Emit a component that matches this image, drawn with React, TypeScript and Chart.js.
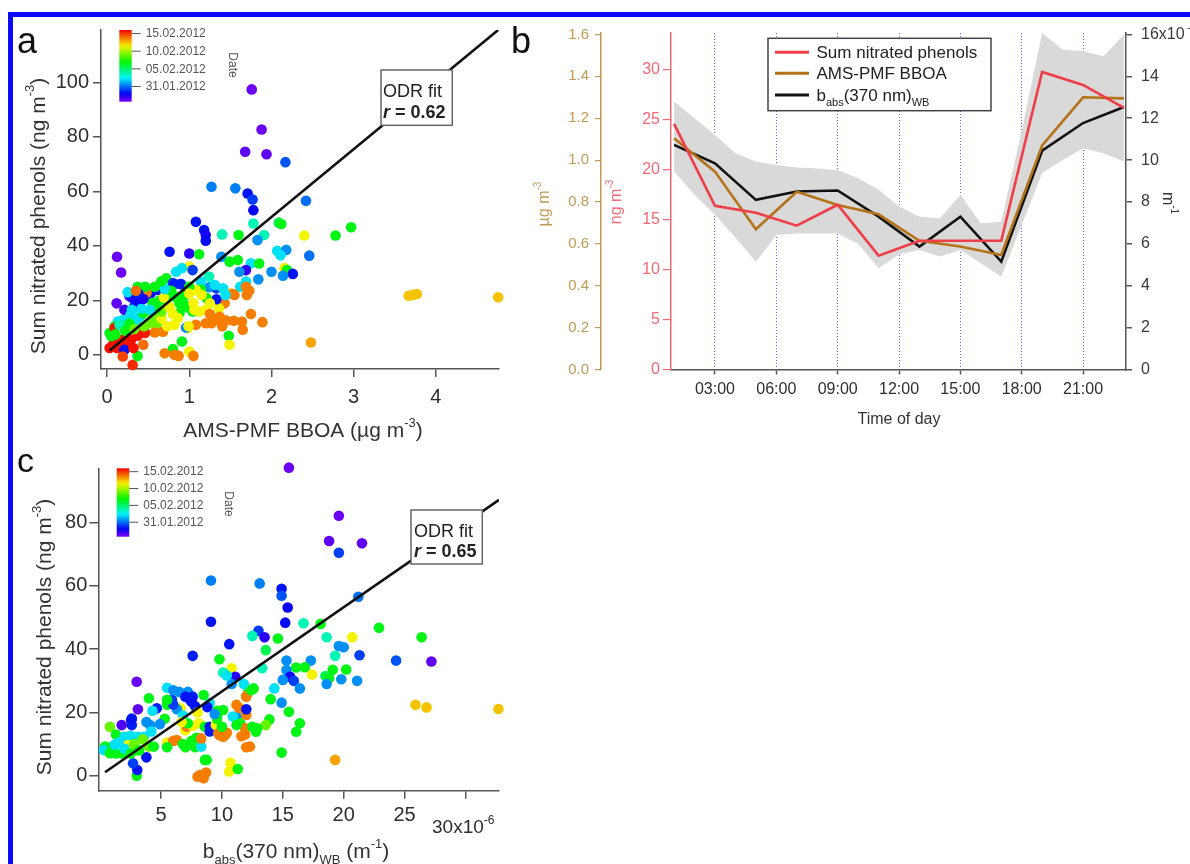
import React, { useEffect, useRef } from "react";
import { Chart, registerables } from "chart.js";

Chart.register(...registerables);

const FAMILY = '"Liberation Sans", Arial, Helvetica, sans-serif';
Chart.defaults.font.family = FAMILY;

// ---------------- Panel b : diurnal cycles ----------------
const hours = [1, 3, 5, 7, 9, 11, 13, 15, 17, 19, 21, 23];
const nitratedPhenolsDiurnal = [24.6, 16.4, 15.7, 14.4, 16.5, 11.4, 12.9, 12.9, 12.9, 29.8, 28.5, 26.2]; // ng m-3
const bboaDiurnal = [1.104, 0.945, 0.67, 0.849, 0.786, 0.741, 0.615, 0.587, 0.547, 1.07, 1.3, 1.295]; // ug m-3
const babsDiurnal = [10.73, 9.85, 8.1, 8.5, 8.55, 7.3, 5.87, 7.3, 5.15, 10.45, 11.77, 12.54]; // x1e-6 m-1
const bandHours = [1, 2, 3, 4, 5, 6, 7, 8, 9, 10, 11, 12, 13, 14, 15, 16, 17, 18, 19, 20, 21, 22, 23];
const babsUpper = [12.8, 12.0, 11.2, 10.33, 9.93, 9.77, 9.65, 9.6, 9.53, 9.13, 8.58, 7.78, 7.3, 7.22, 8.34, 6.98, 7.06, 11.4, 16.07, 15.28, 15.2, 14.96, 16.0];
const babsLower = [9.45, 8.34, 7.38, 6.3, 5.15, 6.42, 6.5, 6.5, 6.5, 6.0, 4.83, 5.5, 5.71, 5.4, 5.71, 5.07, 4.43, 6.9, 9.38, 10.0, 10.57, 10.33, 9.93];

// ---------------- Colour bar (date, days relative to 31.01.2012) ----------------
const DAY_MIN = -4.3;
const DAY_MAX = 16;
const colorbarDays = [0, 5, 10, 15];
const colorbarLabels = ["31.01.2012", "05.02.2012", "10.02.2012", "15.02.2012"];

// ---------------- Panel a : [BBOA ug m-3, nitrated phenols ng m-3, day] ----------------
const scatterBBOA: number[][] = [
  [1.76, 97.4, -4], [1.88, 82.7, -4], [1.68, 74.5, -3.8], [1.94, 73.6, -3.8], [2.17, 70.7, -0.5],
  [1.27, 61.7, 0.3], [1.56, 61.1, 0.3], [1.71, 59.2, -1.7], [1.77, 57.0, -0.9], [1.78, 53.1, -2.2],
  [2.42, 56.5, 0], [1.08, 48.8, -1.7], [1.18, 45.8, -1.7], [1.2, 44.0, -2.5], [1.2, 41.9, -1.9],
  [1.78, 48.2, 3.6], [2.09, 48.5, 5.5], [2.12, 48.0, 6.6], [2.97, 46.8, 6.6], [2.78, 43.8, 6.6],
  [2.4, 43.8, 11.5], [1.6, 44.0, 6.6], [1.4, 44.2, 3.6], [1.91, 44.0, 3.6], [0.76, 37.8, -1.7],
  [1.0, 37.2, -2.8], [1.12, 36.9, 6.6], [1.39, 36.0, 0.6], [1.49, 34.2, 6.6], [1.59, 34.8, 6.6],
  [1.75, 33.6, 2.1], [1.85, 33.5, 6.6], [1.83, 42.1, 0.6], [2.07, 38.2, 2.1], [2.18, 38.5, 0.6],
  [2.11, 36.5, 2.1], [2.46, 36.4, 0], [2.16, 31.8, 11.5], [2.19, 31.1, 6.6], [2.26, 29.7, -1.7],
  [2.14, 29.0, 0.6], [2.0, 30.5, 0.6], [1.69, 31.1, -3], [1.61, 30.5, 0.6], [1.69, 26.9, 2.1],
  [1.84, 27.7, 0.6], [1.62, 25.0, 2.1], [1.7, 22.0, 13.7], [1.73, 23.5, 13.7], [1.55, 22.0, 13.7],
  [1.5, 22.5, 12.4], [1.43, 18.9, 13.7], [1.36, 17.1, 11.5], [1.24, 24.8, 0.6], [1.33, 24.4, -0.9],
  [1.33, 20.4, -1.7], [1.24, 28.7, 3.6], [1.14, 26.9, 2.1], [1.14, 24.0, 6.6], [1.21, 20.8, 6.6],
  [1.08, 23.8, 11.5], [1.0, 32.4, 11.5], [1.04, 31.1, -0.9], [0.91, 31.8, 2.1], [0.84, 30.5, 2.1],
  [0.72, 28.1, 6.6], [0.8, 26.3, -0.9], [0.89, 26.0, -2.5], [0.96, 24.4, -1.7], [0.91, 21.0, 6.6],
  [0.88, 18.9, 6.6], [0.96, 17.5, 6.6], [1.04, 15.9, 6.6], [1.12, 15.9, 11.5], [1.2, 11.6, 13.7],
  [1.29, 13.4, 13.7], [1.37, 14.0, 13.7], [1.45, 12.6, 13.7], [1.54, 12.5, 13.7], [1.64, 12.2, 13.7],
  [1.65, 9.2, 13.7], [1.75, 15.0, 13.7], [1.89, 12.0, 13.7], [1.4, 10.5, 13.7], [1.48, 7.0, 6.6],
  [1.49, 3.7, 11.5], [2.48, 4.5, 13], [0.91, 4.9, 6.6], [1.0, 1.2, 11.5], [1.05, -0.4, 13.7],
  [0.87, -0.4, 13.7], [0.8, 2.1, 6.6], [0.7, 0.6, 13.7], [3.72, 22.0, 12.4], [3.77, 22.3, 12.4],
  [3.67, 21.7, 12.4], [4.76, 21.1, 12.4], [0.98, 9.8, 11.5], [1.08, 11.0, 13.7],
  [0.12, 36.0, -4], [0.17, 30.2, -4], [0.115, 18.9, -3.8], [0.27, 21.6, -3.5], [0.21, 16.5, -3.2],
  [0.33, 17.7, -1.7], [0.37, 19.2, -2], [0.46, 21.4, -1.5], [0.53, 22.6, -1.7], [0.62, 23.8, -1.5],
  [0.48, 22.8, 13.7], [0.37, 25.0, 6.6], [0.46, 25.0, 6.6], [0.3, 16.5, 2.1], [0.19, 12.8, 2.1],
  [0.13, 12.2, 2.1], [0.09, 10.4, 6.6], [0.03, 8.0, 6.6], [0.06, 7.4, 6.6], [0.23, 10.4, 2.1],
  [0.35, 12.2, 2.1], [0.4, 14.1, 2.1], [0.44, 15.3, 6.6], [0.54, 12.2, 8.9], [0.6, 11.0, 8.9],
  [0.66, 13.4, 11.5], [0.66, 15.9, 8.9], [0.72, 20.1, 6.6], [0.82, 21.4, 6.6], [0.82, 26.0, -1.5],
  [0.9, 26.0, -1.5], [0.93, 21.4, 6.6], [1.0, 25.0, 6.6], [1.0, 22.5, 11.5], [0.97, 18.0, 6.6],
  [1.06, 16.5, 11.5], [0.88, 15.3, 6.6], [0.82, 11.0, 11.5], [0.68, 8.5, 13.7], [0.58, 8.2, 13.7],
  [0.46, 8.0, 15.5], [0.4, 8.5, 15.5], [0.37, 7.0, 15.7], [0.29, 5.5, 15.7], [0.25, 4.3, 15.7],
  [0.17, 5.5, 15.7], [0.11, 4.9, 15.7], [0.07, 3.7, 15.7], [0.03, 2.5, 15.7], [0.12, 2.5, 15.7],
  [0.19, 3.1, 15.7], [0.09, 9.8, 15.5], [0.21, 1.8, -1.7], [0.19, -0.6, 14.8], [0.31, -3.7, 15.2],
  [0.37, -0.4, 6.6], [0.44, 3.7, 14], [0.32, 2.5, 15.7], [0.82, 0.0, 13.7], [1.27, 11.6, 13.7],
  [1.35, 12.8, 13.7], [1.69, 25.0, 13.7], [1.72, 23.5, 13.7], [1.53, 22.3, 13.7], [1.15, 22.0, 11.5],
  [1.41, 24.4, 2.1], [1.31, 25.6, 2.1], [1.44, 22.0, 2.1], [1.25, 18.9, 11.5], [1.2, 16.5, 11.5],
  [1.25, 15.0, 13.7], [1.05, 18.9, 11.5], [0.96, 10.0, 0.6], [0.99, 10.5, 11.5], [0.73, 10.5, 11.5],
  [0.28, 14.5, 2.1], [0.15, 11.0, 3.6], [0.1, 7.5, 6.6], [0.05, 6.8, 6.6], [0.22, 8.9, 6.6],
  [0.27, 11.5, 6.6], [0.33, 9.5, 8.9], [0.5, 11.5, 8.9], [0.45, 10.5, 8.9], [0.55, 14.6, 8.9],
  [0.6, 17.0, 6.6], [0.63, 19.8, 6.6], [0.55, 19.0, 6.6], [0.42, 17.0, 2.1], [0.52, 16.5, 2.1],
  [0.69, 21.0, 11.5], [0.76, 17.5, 11.5], [0.8, 15.0, 11.5], [0.86, 13.5, 11.5], [0.78, 23.5, 6.6],
  [0.7, 24.2, 2.1], [0.58, 25.0, 6.6], [0.66, 27.0, 6.6], [0.44, 20.5, -2.5], [0.3, 21.0, -2.5],
  [0.38, 22.5, -1.5], [0.25, 23.0, 2.1], [0.35, 23.5, 14],
];
const odrFitA = [{ x: 0.03, y: 1.6 }, { x: 4.76, y: 119.2 }];

// ---------------- Panel c : [babs x1e-6 m-1, nitrated phenols ng m-3, day] ----------------
const scatterBabs: number[][] = [
  [15.5, 97.4, -4], [19.6, 82.2, -4], [18.8, 74.2, -3.8], [21.5, 73.5, -3.8], [19.6, 70.5, -0.9],
  [9.1, 61.7, 0.3], [13.1, 60.8, 0.3], [14.9, 59.1, -1.7], [14.9, 56.9, -0.5], [15.4, 53.2, -2.2],
  [21.2, 56.6, 0], [9.1, 48.7, -1.7], [15.2, 48.4, -1.9], [13.0, 45.8, -1.0], [13.5, 43.8, -2.8],
  [12.5, 44.2, 3.6], [14.6, 43.4, 6.6], [10.6, 41.6, -1.7], [7.6, 37.9, -1.5], [13.6, 39.7, 5.5],
  [16.7, 48.2, 3.6], [18.1, 48.0, 6.6], [22.9, 46.8, 6.6], [26.4, 43.8, 6.6], [20.7, 43.8, 11.5],
  [18.6, 43.8, 3.6], [19.6, 41.0, 0.6], [20.0, 40.6, 0.6], [21.3, 38.1, -0.9], [24.3, 36.4, -0.5],
  [27.2, 36.1, -3.8], [19.3, 37.9, 3.6], [17.3, 36.4, 0.6], [19.1, 33.5, 6.6], [20.2, 33.6, 6.6],
  [18.5, 31.5, 5.5], [18.8, 30.8, 6.6], [21.1, 30.0, 0.6], [19.8, 30.5, 0.6], [18.6, 29.0, 0.6],
  [17.4, 32.0, 11.5], [16.8, 34.3, 6.6], [16.1, 34.2, 6.6], [15.3, 33.4, 0.6], [15.3, 36.4, 0.6],
  [15.6, 31.3, -2.2], [15.9, 30.0, -0.9], [16.4, 27.6, 0.6], [15.0, 30.3, 0.6], [14.9, 23.1, 0.6],
  [14.3, 27.6, 2.1], [14.0, 24.2, 6.6], [13.3, 34.0, 3.6], [12.6, 27.6, 6.6], [12.2, 27.0, 6.6],
  [15.5, 20.2, 6.6], [16.4, 16.6, 6.6], [16.1, 13.9, 6.6], [14.9, 7.3, 6.6], [13.9, 17.8, 6.6],
  [13.6, 16.0, 8.9], [12.8, 13.9, 6.6], [19.3, 5.0, 13], [25.9, 22.4, 12.4], [26.8, 21.6, 12.4],
  [32.7, 21.1, 12.4], [10.8, 34.0, 11.5], [11.1, 31.3, -2.8], [10.8, 29.0, 0.6], [9.8, 36.8, 6.6],
  [10.1, 32.6, 3.6], [10.4, 31.7, 2.1], [11.8, 29.0, 2.1], [11.2, 18.7, 0.6], [11.5, 16.6, 6.6],
  [12.0, 25.2, 13.7], [11.2, 22.4, 13.7], [11.5, 21.5, 11.5], [12.0, 19.2, 13.7], [11.9, 15.0, 13.7],
  [11.9, 13.0, 13.7], [12.3, 9.2, 13.7], [10.4, 13.6, 13.7], [9.8, 12.8, 13.7], [10.1, 12.3, 13.7],
  [10.7, 4.1, 11.5], [10.6, 1.3, 11.5], [11.3, 2.1, 6.6], [8.2, 0.2, 13.7], [8.5, -0.8, 13.7],
  [8.0, -0.3, 13.7], [8.7, 1.0, 13.7], [8.75, 5.0, 6.6], [3.0, 0.0, 6.6], [3.05, 1.8, -1.7],
  [2.7, 3.9, -0.9], [3.0, 29.7, -4], [3.1, 21.0, -3.8], [1.77, 16.0, -3.5], [2.55, 17.5, -1.7],
  [2.6, 16.0, -1.5], [3.8, 5.8, -1.7], [5.9, 24.0, -0.9], [4.0, 24.5, 6.6], [5.5, 27.8, 2.1],
  [6.0, 27.0, 0.6], [6.5, 26.5, 0.6], [7.2, 26.5, 0.6], [7.0, 25.0, -1.7], [7.6, 25.0, -1.5],
  [7.5, 23.4, -1.7], [7.8, 22.0, -1.7], [2.6, 18.1, -1.7], [4.65, 21.3, -1.5], [4.3, 20.5, 2.1],
  [3.8, 17.0, 0.6], [4.1, 16.0, 0.6], [5.5, 22.4, 6.6], [6.6, 21.3, 11.5], [5.3, 18.0, 6.6],
  [4.9, 16.3, 0.6], [0.8, 15.5, 8.9], [1.3, 13.0, 6.6], [2.0, 12.3, 2.1], [2.5, 12.6, 2.1],
  [3.1, 12.3, 2.1], [3.6, 12.3, 2.1], [3.5, 11.5, 8.9], [0.4, 9.2, 6.6], [0.3, 8.1, 2.1],
  [1.0, 9.2, 6.6], [0.8, 7.1, 6.6], [1.3, 7.0, 6.6], [1.8, 7.0, 6.6], [2.3, 9.7, 11.5],
  [2.8, 10.0, 8.9], [3.2, 8.0, 6.6], [4.0, 9.2, 8.9], [4.4, 9.2, 6.6], [1.5, 10.5, 2.1],
  [2.0, 8.5, 2.1], [2.5, 7.0, 6.6], [1.2, 9.8, 2.1], [5.5, 10.5, 11.5], [6.0, 11.0, 13.7],
  [6.3, 11.3, 13.7], [5.5, 9.0, 6.6], [6.8, 10.0, 6.6], [7.0, 9.0, 6.6], [7.5, 11.0, 6.6],
  [7.8, 9.0, 6.6], [8.3, 9.2, 2.1], [8.6, 5.0, 6.6], [7.0, 14.4, 11.5], [7.1, 15.5, 13.7],
  [7.6, 15.8, 11.5], [7.9, 12.0, 6.6], [8.3, 11.8, 13.7], [7.2, 16.6, 6.6], [8.1, 16.6, 11.5],
  [8.6, 15.5, 6.6], [9.0, 15.5, -1.7], [9.0, 14.0, -1.5], [9.5, 16.0, 11.5], [9.6, 18.0, 6.6],
  [9.7, 20.0, 6.6], [9.7, 13.4, 13.7], [10.3, 13.0, 13.7], [10.0, 15.5, 6.6], [10.9, 18.7, 2.1],
  [11.4, 21.5, 13.7], [11.2, 16.0, 6.6], [11.6, 12.5, 13.7], [12.0, 9.0, 13.7], [12.0, 25.0, 13.7],
  [12.4, 27.0, 6.6], [12.0, 21.0, -1.7], [12.5, 15.5, 6.6], [12.9, 15.0, 6.6], [10.1, 20.8, 6.6],
  [9.6, 20.5, 6.6], [9.0, 23.0, 2.1], [8.5, 25.5, 6.6], [7.4, 24.0, -1.7], [6.3, 21.0, 0.6],
  [6.0, 22.5, -0.9], [5.5, 24.0, 6.6], [8.0, 20.0, 11.5], [8.8, 21.7, -1.7], [9.4, 19.5, 0.6],
  [6.8, 19.0, 2.1], [4.2, 14.0, 2.1], [6.7, 17.0, 11.5],
];
const odrFitC = [{ x: 0.4, y: 1.1 }, { x: 32.75, y: 87.2 }];

// ---------------- styling ----------------
const AXIS = "#555";
const TICKTXT = "#2e2e2e";
const RED = "#ef3e48";
const RED_AXIS = "#f06a76";
const BROWN = "#b47319";
const BROWN_AXIS = "#c39a55";
const BLACK = "#111";
const TICK_SIZE = 20;
const TITLE_SIZE = 21;

function dayColor(d: number) {
  const t = Math.min(1, Math.max(0, (d - DAY_MIN) / (DAY_MAX - DAY_MIN)));
  return `hsl(${(270 * (1 - t)).toFixed(1)}, 100%, 48%)`;
}

type Part = { t: string; m?: "sup" | "sub"; b?: boolean; i?: boolean };

function drawRich(ctx: any, x: number, y: number, rot: number, parts: Part[], size: number, color: string, align = "center") {
  ctx.save();
  ctx.translate(x, y);
  ctx.rotate(rot);
  ctx.fillStyle = color;
  ctx.textBaseline = "alphabetic";
  ctx.textAlign = "left";
  const fontFor = (p: Part) => `${p.i ? "italic " : ""}${p.b ? "bold " : ""}${p.m ? Math.round(size * 0.62) : size}px ${FAMILY}`;
  let total = 0;
  for (const p of parts) {
    ctx.font = fontFor(p);
    total += ctx.measureText(p.t).width;
  }
  let cx = align === "center" ? -total / 2 : 0;
  for (const p of parts) {
    ctx.font = fontFor(p);
    const dy = p.m === "sup" ? -size * 0.5 : p.m === "sub" ? size * 0.28 : 0;
    ctx.fillText(p.t, cx, dy);
    cx += ctx.measureText(p.t).width;
  }
  ctx.restore();
}

function drawColorbar(ctx: any, x0: number, yTop: number, x1: number, yBottom: number) {
  const g = ctx.createLinearGradient(0, yBottom, 0, yTop);
  for (let i = 0; i <= 24; i++) {
    g.addColorStop(i / 24, dayColor(DAY_MIN + ((DAY_MAX - DAY_MIN) * i) / 24));
  }
  ctx.fillStyle = g;
  ctx.fillRect(x0, yTop, x1 - x0, yBottom - yTop);
  colorbarDays.forEach((d, k) => {
    const y = yBottom - ((d - DAY_MIN) / (DAY_MAX - DAY_MIN)) * (yBottom - yTop);
    ctx.strokeStyle = "#555";
    ctx.lineWidth = 1;
    ctx.beginPath();
    ctx.moveTo(x1, y);
    ctx.lineTo(x1 + 9, y);
    ctx.stroke();
    ctx.fillStyle = "#555";
    ctx.font = `12px ${FAMILY}`;
    ctx.textAlign = "left";
    ctx.textBaseline = "middle";
    ctx.fillText(colorbarLabels[k], x1 + 14, y + 0.5);
  });
}

function drawOdrBox(ctx: any, x0: number, y0: number, x1: number, y1: number, r: string, tx: number, b1: number, b2: number) {
  ctx.fillStyle = "#fff";
  ctx.fillRect(x0, y0, x1 - x0, y1 - y0);
  ctx.strokeStyle = "#666";
  ctx.lineWidth = 1.5;
  ctx.strokeRect(x0, y0, x1 - x0, y1 - y0);
  drawRich(ctx, tx, b1, 0, [{ t: "ODR fit" }], 18, "#222", "left");
  drawRich(ctx, tx, b2, 0, [{ t: "r", b: true, i: true }, { t: " = " + r, b: true }], 18, "#222", "left");
}

function letter(ctx: any, s: string, x: number, y: number, size: number) {
  ctx.fillStyle = "#111";
  ctx.font = `${size}px ${FAMILY}`;
  ctx.textAlign = "left";
  ctx.textBaseline = "alphabetic";
  ctx.fillText(s, x, y);
}

const panelAPlugin = {
  id: "panelA",
  afterDraw(chart: any) {
    const ctx = chart.ctx;
    ctx.save();
    drawColorbar(ctx, 119.3, 30, 131.7, 101.7);
    drawRich(ctx, 228.5, 65, Math.PI / 2, [{ t: "Date" }], 12, "#555");
    drawOdrBox(ctx, 381, 70, 452.3, 125.3, "0.62", 383, 96.5, 118.3);
    drawRich(ctx, 44.5, 216, -Math.PI / 2, [{ t: "Sum nitrated phenols (ng m" }, { t: "-3", m: "sup" }, { t: ")" }], TITLE_SIZE, "#333");
    drawRich(ctx, 303, 437, 0, [{ t: "AMS-PMF BBOA (µg m" }, { t: "-3", m: "sup" }, { t: ")" }], TITLE_SIZE, "#333");
    letter(ctx, "a", 17, 53, 36);
    ctx.restore();
  },
};

const panelCPlugin = {
  id: "panelC",
  afterDraw(chart: any) {
    const ctx = chart.ctx;
    ctx.save();
    ctx.translate(0, -440);
    drawColorbar(ctx, 116.7, 468.3, 129.3, 536.7);
    drawRich(ctx, 225, 504, Math.PI / 2, [{ t: "Date" }], 12, "#555");
    drawOdrBox(ctx, 411, 510, 482.3, 564, "0.65", 414, 536.7, 556.7);
    drawRich(ctx, 51, 637, -Math.PI / 2, [{ t: "Sum nitrated phenols (ng m" }, { t: "-3", m: "sup" }, { t: ")" }], TITLE_SIZE, "#333");
    drawRich(ctx, 296, 858.3, 0, [{ t: "b" }, { t: "abs", m: "sub" }, { t: "(370 nm)" }, { t: "WB", m: "sub" }, { t: " (m" }, { t: "-1", m: "sup" }, { t: ")" }], TITLE_SIZE, "#333");
    drawRich(ctx, 432, 833.3, 0, [{ t: "30x10" }, { t: "-6", m: "sup" }], 19, TICKTXT, "left");
    letter(ctx, "c", 17, 472, 34);
    ctx.restore();
  },
};

const panelBPlugin = {
  id: "panelB",
  afterDraw(chart: any) {
    const ctx = chart.ctx;
    ctx.save();
    ctx.translate(-500, 0);
    // legend
    ctx.fillStyle = "#fff";
    ctx.fillRect(768, 38.3, 223, 72.4);
    ctx.strokeStyle = "#444";
    ctx.lineWidth = 1.5;
    ctx.strokeRect(768, 38.3, 223, 72.4);
    const rows: [number, string, Part[]][] = [
      [52.3, RED, [{ t: "Sum nitrated phenols" }]],
      [73.3, BROWN, [{ t: "AMS-PMF BBOA" }]],
      [95, BLACK, [{ t: "b" }, { t: "abs", m: "sub" }, { t: "(370 nm)" }, { t: "WB", m: "sub" }]],
    ];
    rows.forEach(([y, c, parts]) => {
      ctx.strokeStyle = c;
      ctx.lineWidth = 3;
      ctx.beginPath();
      ctx.moveTo(775, y);
      ctx.lineTo(809, y);
      ctx.stroke();
      drawRich(ctx, 816.5, y + 6, 0, parts, 17, "#222", "left");
    });
    drawRich(ctx, 899, 424, 0, [{ t: "Time of day" }], 16, "#333");
    drawRich(ctx, 548.5, 204, -Math.PI / 2, [{ t: "µg m" }, { t: "-3", m: "sup" }], 16, BROWN_AXIS);
    drawRich(ctx, 621, 202, -Math.PI / 2, [{ t: "ng m" }, { t: "-3", m: "sup" }], 16, RED_AXIS);
    drawRich(ctx, 1163, 203, Math.PI / 2, [{ t: "m" }, { t: "-1", m: "sup" }], 16, "#333");
    drawRich(ctx, 1187, 31, 0, [{ t: "-6" }], 10, "#444", "left");
    letter(ctx, "b", 511, 53, 36);
    ctx.restore();
  },
};

function scatterChart(canvas: HTMLCanvasElement, o: any) {
  return new Chart(canvas, {
    type: "scatter",
    data: {
      datasets: [
        { type: "line", data: o.fit, borderColor: BLACK, borderWidth: 2.6, pointRadius: 0, order: 0, tension: 0 },
        {
          type: "scatter",
          data: o.points.map((p: number[]) => ({ x: p[0], y: p[1] })),
          pointRadius: 5.3,
          pointBorderWidth: 0,
          borderWidth: 0,
          pointBackgroundColor: o.points.map((p: number[]) => dayColor(p[2])),
          order: 1,
          clip: false,
        },
      ],
    } as any,
    options: {
      responsive: false,
      animation: false,
      devicePixelRatio: 1,
      events: [],
      layout: { padding: o.padding },
      plugins: { legend: { display: false }, tooltip: { enabled: false } },
      scales: {
        x: {
          type: "linear",
          min: o.xMin,
          max: o.xMax,
          afterFit: (s: any) => { s.height = o.xHeight; },
          afterBuildTicks: (s: any) => { s.ticks = s.ticks.filter((t: any) => t.value >= o.xFirst); },
          ticks: { stepSize: o.xStep, includeBounds: false, color: TICKTXT, font: { size: TICK_SIZE }, padding: o.xPad, maxRotation: 0, autoSkip: false, callback: o.xLabel },
          grid: { drawOnChartArea: false, color: AXIS, lineWidth: 1.5, tickLength: 8 },
          border: { color: AXIS, width: 1.5 },
        },
        y: {
          type: "linear",
          min: o.yMin,
          max: o.yMax,
          afterFit: (s: any) => { s.width = o.yWidth; },
          ticks: { stepSize: 20, includeBounds: false, color: TICKTXT, font: { size: TICK_SIZE }, padding: o.yPad, autoSkip: false },
          grid: { drawOnChartArea: false, color: AXIS, lineWidth: 1.5, tickLength: o.yTick },
          border: { color: AXIS, width: 1.5 },
        },
      },
    } as any,
    plugins: [o.plugin],
  });
}

function diurnalChart(canvas: HTMLCanvasElement) {
  const xy = (xs: number[], ys: number[]) => xs.map((x, i) => ({ x, y: ys[i] }));
  return new Chart(canvas, {
    type: "line",
    data: {
      datasets: [
        { data: xy(hours, nitratedPhenolsDiurnal), yAxisID: "yRed", borderColor: RED, borderWidth: 2.6, pointRadius: 0, tension: 0, order: 1 },
        { data: xy(hours, bboaDiurnal), yAxisID: "yB", borderColor: BROWN, borderWidth: 2.6, pointRadius: 0, tension: 0, order: 2 },
        { data: xy(hours, babsDiurnal), yAxisID: "yR", borderColor: BLACK, borderWidth: 2.6, pointRadius: 0, tension: 0, order: 3 },
        { data: xy(bandHours, babsUpper), yAxisID: "yR", borderWidth: 0, borderColor: "rgba(0,0,0,0)", pointRadius: 0, tension: 0, fill: "+1", backgroundColor: "#d9d9d9", order: 10 },
        { data: xy(bandHours, babsLower), yAxisID: "yR", borderWidth: 0, borderColor: "rgba(0,0,0,0)", pointRadius: 0, tension: 0, fill: false, order: 11 },
      ],
    } as any,
    options: {
      responsive: false,
      animation: false,
      devicePixelRatio: 1,
      events: [],
      layout: { padding: { left: 40, top: 33, right: 0, bottom: 0 } },
      plugins: { legend: { display: false }, tooltip: { enabled: false } },
      scales: {
        x: {
          type: "linear",
          min: 0.85,
          max: 23.1,
          afterFit: (s: any) => { s.height = 70.5; },
          ticks: {
            stepSize: 3,
            includeBounds: false,
            color: TICKTXT,
            font: { size: 16 },
            padding: 5,
            maxRotation: 0,
            autoSkip: false,
            callback: (v: any) => `${String(v).padStart(2, "0")}:00`,
          },
          grid: { drawOnChartArea: true, color: "rgba(85,85,255,0.95)", lineWidth: 1, tickColor: AXIS, tickWidth: 1.5, tickLength: 5 },
          border: { color: AXIS, width: 1.5, dash: [1, 2] },
        },
        yRed: {
          type: "linear",
          position: "left",
          weight: 0,
          min: 0,
          max: 33.7,
          afterFit: (s: any) => { s.width = 70; },
          ticks: { stepSize: 5, includeBounds: false, color: RED_AXIS, font: { size: 16 }, padding: 3, autoSkip: false },
          grid: { drawOnChartArea: false, color: RED_AXIS, lineWidth: 1.2, tickLength: 8 },
          border: { color: RED_AXIS, width: 1.5 },
        },
        yB: {
          type: "linear",
          position: "left",
          weight: 1,
          min: 0,
          max: 1.607,
          afterFit: (s: any) => { s.width = 61; },
          ticks: { stepSize: 0.2, includeBounds: false, color: BROWN_AXIS, font: { size: 15 }, padding: 6, autoSkip: false, callback: (v: any) => Number(v).toFixed(1) },
          grid: { drawOnChartArea: false, color: BROWN_AXIS, lineWidth: 1.2, tickLength: 6 },
          border: { color: BROWN_AXIS, width: 1.5 },
        },
        yR: {
          type: "linear",
          position: "right",
          min: 0,
          max: 16.07,
          afterFit: (s: any) => { s.width = 64; },
          ticks: { stepSize: 2, includeBounds: false, color: "#3a3a3a", font: { size: 16 }, padding: 9, autoSkip: false, callback: (v: any) => (v === 16 ? "16x10" : String(v)) },
          grid: { drawOnChartArea: false, color: AXIS, lineWidth: 1.5, tickLength: 6 },
          border: { color: AXIS, width: 1.5 },
        },
      },
    } as any,
    plugins: [panelBPlugin],
  });
}

export default function App() {
  const refA = useRef<HTMLCanvasElement>(null);
  const refB = useRef<HTMLCanvasElement>(null);
  const refC = useRef<HTMLCanvasElement>(null);

  useEffect(() => {
    const charts: Chart[] = [];
    if (refA.current) {
      charts.push(
        scatterChart(refA.current, {
          points: scatterBBOA,
          fit: odrFitA,
          padding: { left: 0, top: 30, right: 11, bottom: 0 },
          xMin: -0.075, xMax: 4.77, xStep: 1, xFirst: 0, xPad: 8, xHeight: 450 - 369,
          xLabel: (v: any) => String(v),
          yMin: -5.2, yMax: 119.2, yWidth: 101, yPad: 4, yTick: 8,
          plugin: panelAPlugin,
        })
      );
    }
    if (refB.current) charts.push(diurnalChart(refB.current));
    if (refC.current) {
      charts.push(
        scatterChart(refC.current, {
          points: scatterBabs,
          fit: odrFitC,
          padding: { left: 0, top: 28.3, right: 11, bottom: 0 },
          xMin: -0.15, xMax: 32.75, xStep: 5, xFirst: 1, xPad: 5, xHeight: 424 - 350.7,
          xLabel: (v: any) => (v === 30 ? "" : String(v)),
          yMin: -4.74, yMax: 97.2, yWidth: 98.3, yPad: 2, yTick: 9,
          plugin: panelCPlugin,
        })
      );
    }
    return () => charts.forEach((c) => c.destroy());
  }, []);

  return (
    <div style={{ position: "absolute", left: 0, top: 0, width: 1190, height: 864, overflow: "hidden", background: "#fff" }}>
      <div style={{ position: "absolute", left: 8, top: 12, width: 1400, height: 1100, border: "5px solid #0b0bfa", boxSizing: "border-box" }} />
      <canvas ref={refA} width={510} height={450} style={{ position: "absolute", left: 0, top: 0 }} />
      <canvas ref={refB} width={690} height={440} style={{ position: "absolute", left: 500, top: 0 }} />
      <canvas ref={refC} width={510} height={424} style={{ position: "absolute", left: 0, top: 440 }} />
    </div>
  );
}
